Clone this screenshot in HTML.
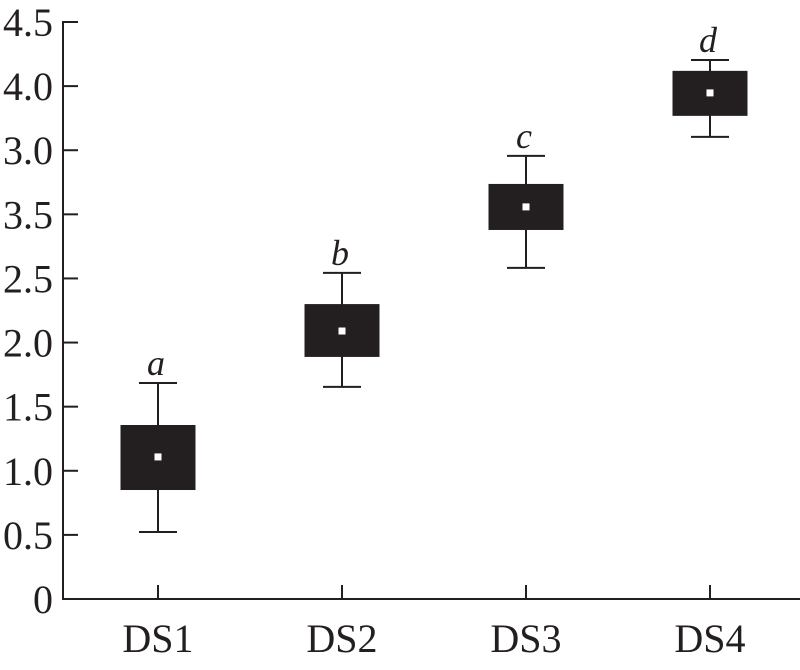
<!DOCTYPE html>
<html><head><meta charset="utf-8"><style>
html,body{margin:0;padding:0;background:#fff;}
svg text{font-family:"Liberation Serif","Times New Roman",Times,serif;fill:#231f20;}
</style></head><body>
<svg id="chart" width="800" height="665" viewBox="0 0 800 665" xmlns="http://www.w3.org/2000/svg">
<g id="axes"></g>
<g id="boxes"></g>
</svg>
<script>
const categories = ["DS1","DS2","DS3","DS4"];
const tickPositions = [0,0.5,1,1.5,2,2.5,3,3.5,4,4.5];
const tickLabels = ["0","0.5","1.0","1.5","2.0","2.5","3.5","3.0","4.0","4.5"];
const whiskerLow = [0.523,1.654,2.582,3.604];
const boxLow = [0.85,1.888,2.878,3.768];
const means = [1.108,2.09,3.058,3.947];
const boxHigh = [1.357,2.30,3.237,4.119];
const whiskerHigh = [1.685,2.543,3.456,4.204];
const letters = ["a","b","c","d"];

const NS="http://www.w3.org/2000/svg";
const x0=63, y0=599, yTop=22, yMax=4.5;
const yS=v=>y0-(v/yMax)*(y0-yTop);
const band=184;
const xS=i=>x0+band*(i+0.5)+3;
const col="#231f20";
function mk(tag,attrs,parent,name){
  const e=document.createElementNS(NS,tag);
  for(const k in attrs)e.setAttribute(k,attrs[k]);
  
  
  parent.appendChild(e);return e;
}
const ax=document.getElementById('axes');
mk('line',{x1:x0,y1:yTop-1,x2:x0,y2:y0+1,stroke:col,'stroke-width':2},ax,'y-axis-line');
mk('line',{x1:x0-1,y1:y0,x2:800,y2:y0,stroke:col,'stroke-width':2},ax,'x-axis-line');
tickPositions.forEach((p,i)=>{
  const y=yS(p);
  mk('line',{x1:x0,y1:y,x2:x0+15,y2:y,stroke:col,'stroke-width':2},ax,'y-tick');
  const t=mk('text',{x:53,y:y+14,'text-anchor':'end','font-size':40},ax,'y-tick-label');
  t.textContent=tickLabels[i];
});
categories.forEach((c,i)=>{
  const x=xS(i);
  mk('line',{x1:x,y1:y0,x2:x,y2:y0-14,stroke:col,'stroke-width':2},ax,'x-tick');
  const t=mk('text',{x:x,y:652,'text-anchor':'middle','font-size':40},ax,'x-tick-label');
  t.textContent=c;
});
const bx=document.getElementById('boxes');
categories.forEach((c,i)=>{
  const x=xS(i);
  const g=mk('g',{},bx,'box-'+c.toLowerCase());
  mk('line',{x1:x,y1:yS(whiskerHigh[i]),x2:x,y2:yS(whiskerLow[i]),stroke:col,'stroke-width':2},g,'whisker');
  mk('line',{x1:x-19,y1:yS(whiskerHigh[i]),x2:x+19,y2:yS(whiskerHigh[i]),stroke:col,'stroke-width':2},g,'whisker-cap-top');
  mk('line',{x1:x-19,y1:yS(whiskerLow[i]),x2:x+19,y2:yS(whiskerLow[i]),stroke:col,'stroke-width':2},g,'whisker-cap-bottom');
  mk('rect',{x:x-37.5,y:yS(boxHigh[i]),width:75,height:yS(boxLow[i])-yS(boxHigh[i]),fill:col},g,'box');
  mk('rect',{x:x-3.5,y:yS(means[i])-3.5,width:7,height:7,fill:'#fff'},g,'mean-marker');
  const t=mk('text',{x:x-2,y:yS(whiskerHigh[i])-8,'text-anchor':'middle','font-size':36,'font-style':'italic'},g,'significance-letter');
  t.textContent=letters[i];
});
</script>
</body></html>
